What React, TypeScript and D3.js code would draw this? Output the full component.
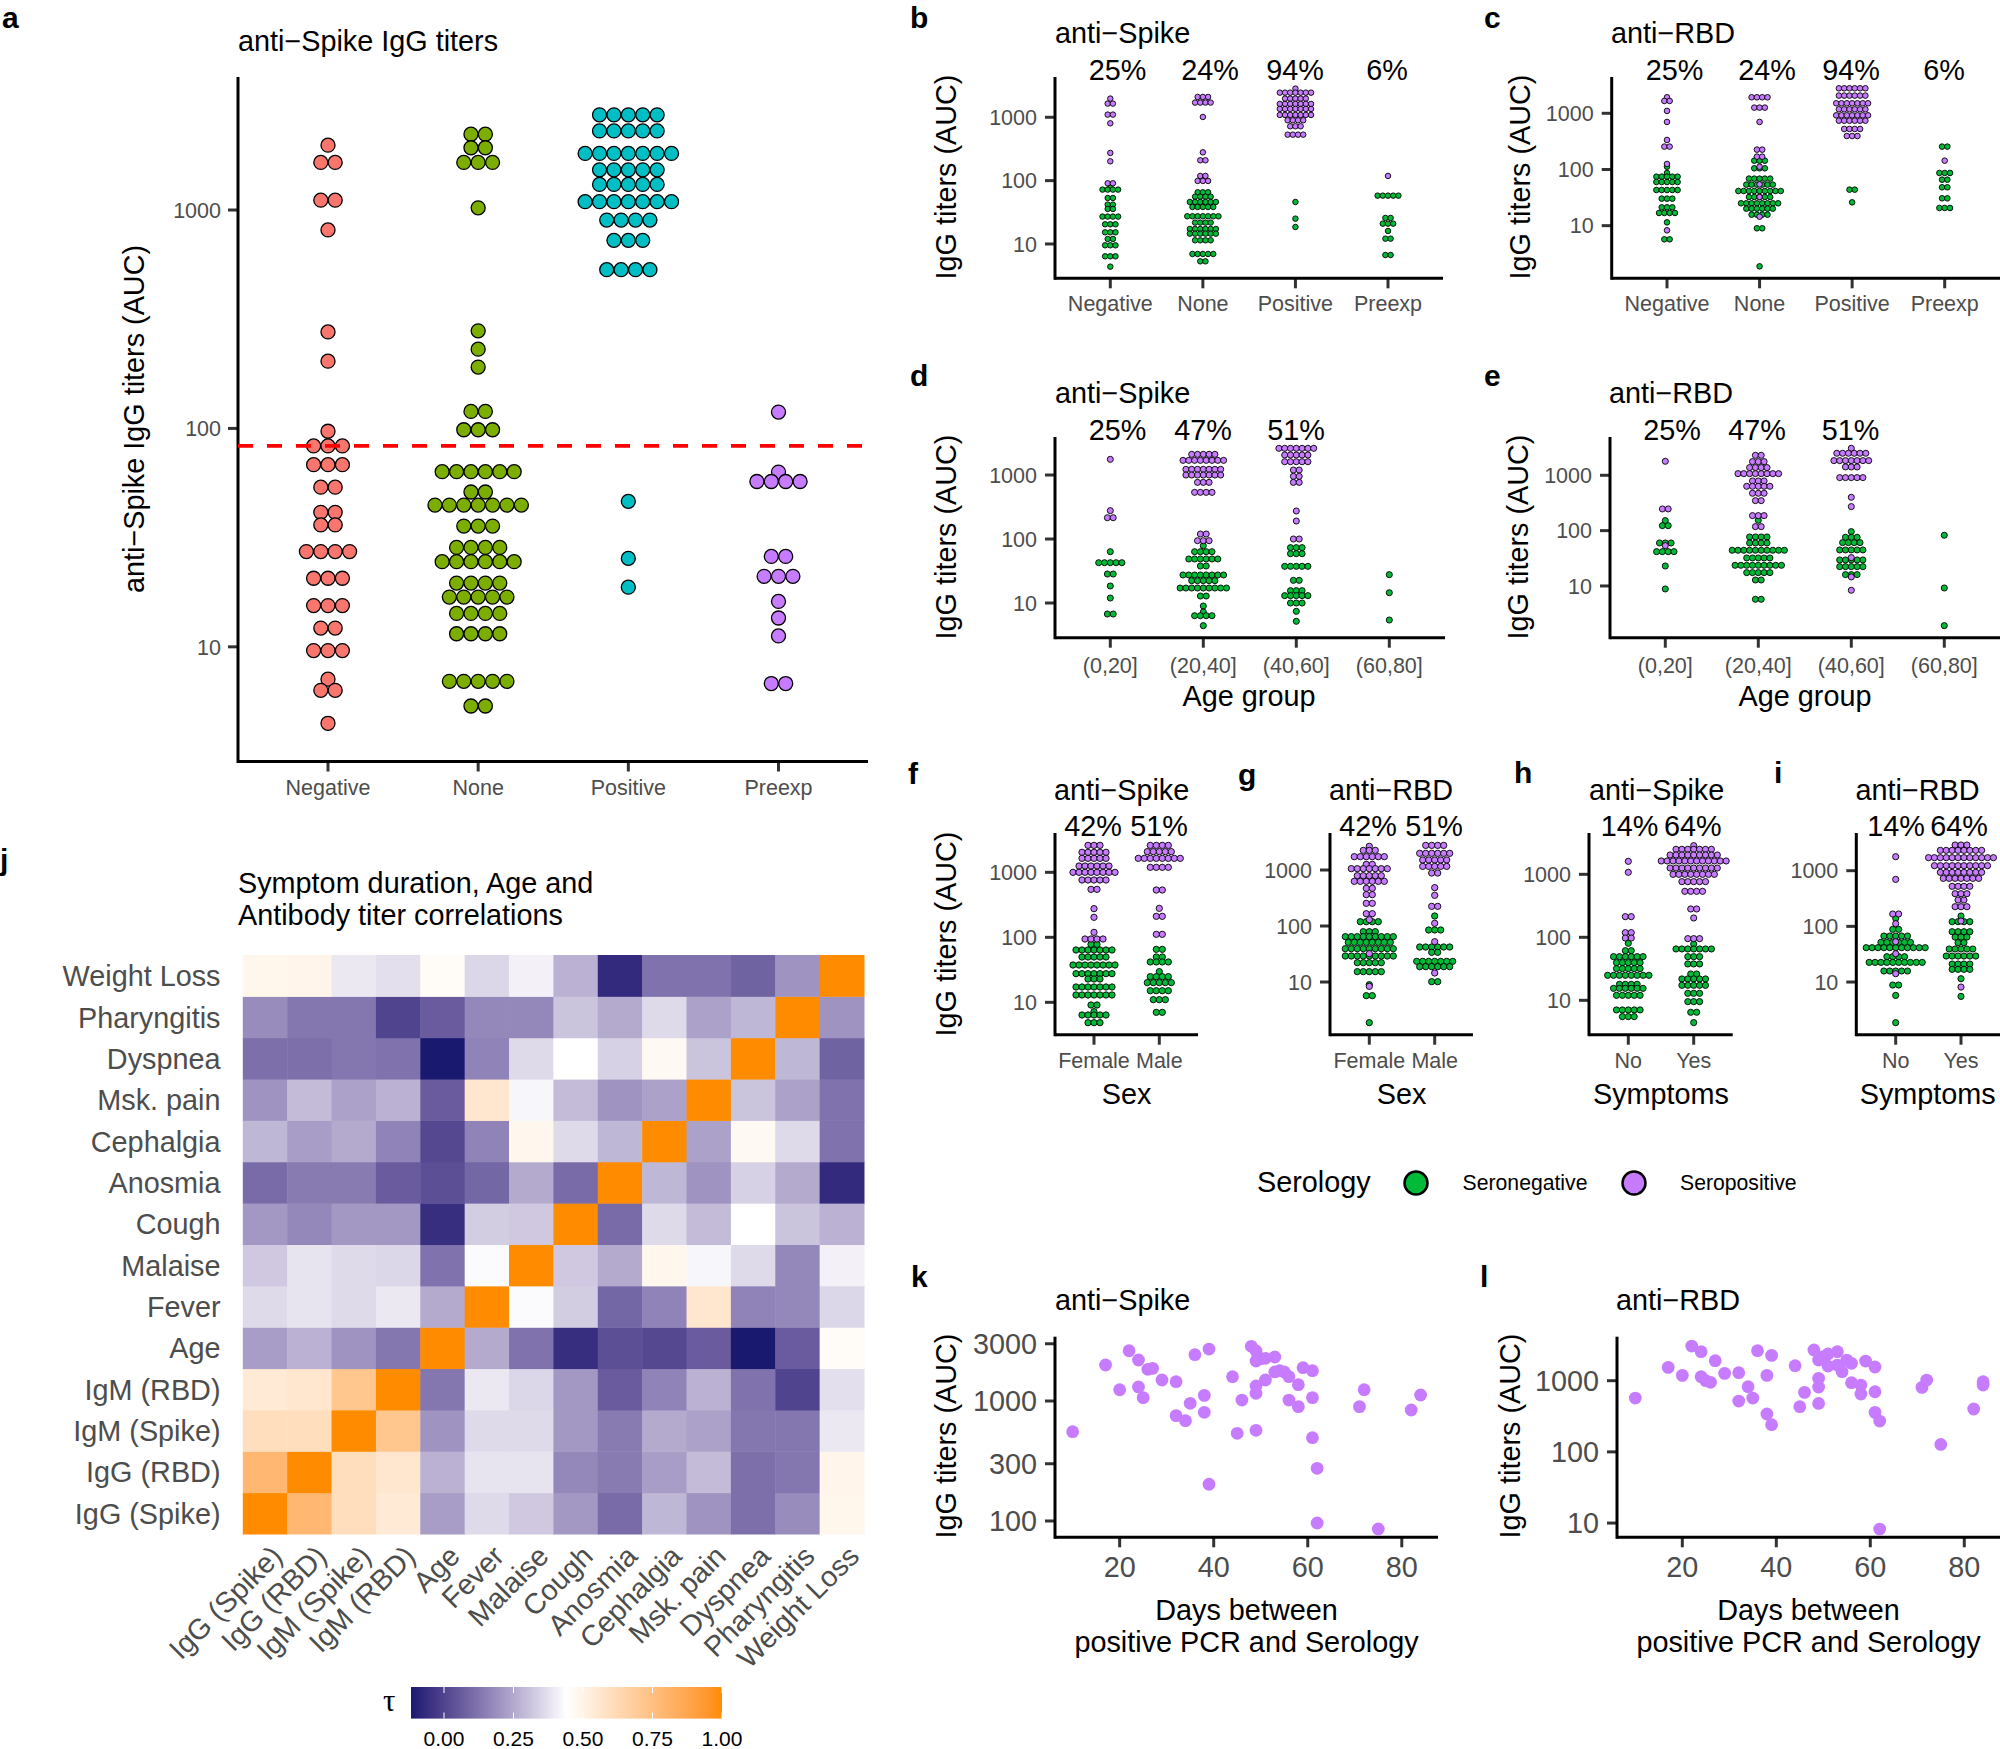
import * as d3 from "d3";

const FONT = "'Liberation Sans', Arial, sans-serif";
const GREEN = "#00BA38";
const PURPLE = "#C77CFF";
const GREY = "#4d4d4d";
const TICK = "#333333";

// every bin is [log10 AUC, number of stacked dots]
type Bin = number[];

const serologyCats = ["Negative", "None", "Positive", "Preexp"];
const ageCats = ["(0,20]", "(20,40]", "(40,60]", "(60,80]"];
const sexCats = ["Female", "Male"];
const symptomCats = ["No", "Yes"];

const aColors = ["#F8766D", "#7CAE00", "#00BFC4", "#C77CFF"];
const aCutoff = 1.92;
const aBins: Bin[][] = [
    [[3.297, 1], [3.218, 2], [3.045, 2], [2.909, 1], [2.442, 1], [2.308, 1], [1.987, 1], [1.92, 3], [1.834, 3], [1.731, 2], [1.616, 2], [1.558, 2], [1.436, 4], [1.314, 3], [1.189, 3], [1.086, 2], [0.983, 3], [0.852, 1], [0.801, 2], [0.65, 1]],
    [[3.347, 2], [3.285, 2], [3.218, 3], [3.01, 1], [2.447, 1], [2.363, 1], [2.281, 1], [2.078, 2], [1.994, 3], [1.802, 6], [1.709, 2], [1.649, 7], [1.553, 3], [1.455, 4], [1.39, 6], [1.292, 4], [1.228, 5], [1.153, 4], [1.06, 4], [0.842, 5], [0.729, 2]],
    [[3.436, 5], [3.362, 5], [3.259, 7], [3.184, 5], [3.117, 5], [3.038, 7], [2.954, 4], [2.861, 3], [2.727, 4], [1.666, 1], [1.405, 1], [1.273, 1]],
    [[2.075, 1], [1.8, 1], [1.757, 4], [1.414, 2], [1.323, 3], [1.208, 1], [1.132, 1], [1.05, 1], [0.832, 2]],
];

const bNeg: Bin[][] = [
    [[1.895, 1], [1.858, 4], [1.726, 2], [1.621, 2], [1.553, 2], [1.432, 4], [1.311, 3], [1.184, 3], [1.079, 2], [0.979, 3], [0.805, 3], [0.642, 1]],
    [[1.816, 3], [1.747, 4], [1.663, 6], [1.584, 5], [1.437, 7], [1.337, 4], [1.237, 6], [1.163, 6], [1.058, 4], [0.842, 5], [0.726, 2]],
    [[1.663, 1], [1.4, 1], [1.268, 1]],
    [[1.763, 5], [1.411, 2], [1.321, 3], [1.205, 1], [1.084, 2], [0.826, 2]],
];
const bPos: Bin[][] = [
    [[3.295, 1], [3.216, 2], [3.042, 2], [2.905, 1], [2.437, 1], [2.305, 1], [1.958, 2]],
    [[3.321, 3], [3.232, 4], [3.005, 1], [2.447, 1], [2.321, 2], [2.074, 2], [1.995, 3]],
    [[3.453, 1], [3.389, 7], [3.295, 5], [3.211, 7], [3.132, 7], [3.037, 7], [2.953, 4], [2.858, 3], [2.726, 4]],
    [[2.074, 1]],
];

const cNeg: Bin[][] = [
    [[2.05, 1], [1.938, 1], [1.872, 5], [1.777, 5], [1.635, 5], [1.481, 3], [1.326, 3], [1.226, 4], [1.059, 1], [0.757, 2]],
    [[2.157, 3], [2.021, 3], [1.837, 5], [1.73, 6], [1.617, 9], [1.51, 5], [1.398, 8], [1.303, 6], [1.196, 4], [0.953, 2], [0.276, 1]],
    [[1.641, 2], [1.415, 1]],
    [[2.407, 2], [1.938, 3], [1.819, 2], [1.683, 2], [1.487, 2], [1.315, 3]],
];
const cPos: Bin[][] = [
    [[3.285, 1], [3.22, 2], [3.042, 1], [2.846, 1], [2.525, 1], [2.407, 2], [2.098, 1], [0.917, 1]],
    [[3.285, 4], [3.101, 3], [2.846, 1], [2.353, 2], [2.228, 2], [2.05, 1], [1.735, 1], [1.51, 1], [1.16, 1]],
    [[3.445, 6], [3.315, 6], [3.178, 7], [3.071, 6], [2.964, 7], [2.869, 6], [2.721, 4], [2.596, 3]],
    [[2.157, 1]],
];

const dNeg: Bin[][] = [
    [[1.802, 1], [1.63, 5], [1.453, 2], [1.266, 1], [1.078, 1], [0.828, 2]],
    [[1.896, 1], [1.802, 4], [1.688, 6], [1.578, 2], [1.438, 8], [1.349, 5], [1.234, 9], [1.109, 2], [0.953, 1], [0.859, 1], [0.802, 4], [0.646, 1]],
    [[1.865, 3], [1.771, 3], [1.573, 5], [1.354, 2], [1.193, 3], [1.115, 5], [1.0, 3], [0.87, 1], [0.714, 1]],
    [[1.443, 1], [1.161, 1], [0.734, 1]],
];
const dPos: Bin[][] = [
    [[3.245, 1], [2.443, 1], [2.333, 2]],
    [[3.323, 5], [3.229, 8], [3.089, 7], [3.0, 7], [2.885, 3], [2.729, 4], [2.078, 2], [1.974, 3]],
    [[3.417, 7], [3.313, 5], [3.208, 5], [3.078, 2], [2.979, 2], [2.885, 2], [2.438, 1], [2.281, 1], [2.0, 2]],
    [],
];

const eNeg: Bin[][] = [
    [[2.181, 1], [2.09, 2], [1.777, 3], [1.62, 4], [1.361, 1], [0.946, 1]],
    [[2.187, 1], [1.886, 4], [1.777, 4], [1.645, 10], [1.506, 5], [1.373, 9], [1.241, 5], [1.108, 2], [0.759, 2]],
    [[1.982, 1], [1.88, 3], [1.783, 4], [1.651, 5], [1.47, 5], [1.349, 5], [1.205, 3]],
    [[1.916, 1], [0.964, 1], [0.283, 1]],
];
const ePos: Bin[][] = [
    [[3.253, 1], [2.392, 2], [1.729, 1]],
    [[3.361, 2], [3.247, 3], [3.139, 4], [3.03, 8], [2.898, 3], [2.801, 5], [2.675, 3], [2.542, 2], [2.271, 3], [2.072, 2]],
    [[3.488, 1], [3.398, 6], [3.265, 7], [3.151, 3], [2.958, 5], [2.602, 1], [2.434, 1], [1.512, 1], [1.163, 1], [0.922, 1]],
    [],
];

const fNeg: Bin[][] = [
    [[1.892, 2], [1.805, 7], [1.697, 5], [1.574, 8], [1.441, 7], [1.359, 3], [1.236, 7], [1.113, 7], [0.959, 2], [0.856, 1], [0.805, 5], [0.687, 3]],
    [[1.815, 2], [1.697, 2], [1.621, 4], [1.472, 1], [1.395, 4], [1.303, 5], [1.179, 4], [1.041, 3], [0.846, 2]],
];
const fPos: Bin[][] = [
    [[3.415, 3], [3.308, 5], [3.215, 5], [3.097, 6], [3.0, 8], [2.882, 5], [2.738, 2], [2.441, 1], [2.308, 1], [2.077, 1], [1.974, 4]],
    [[3.415, 4], [3.318, 5], [3.215, 8], [3.077, 4], [2.728, 2], [2.446, 1], [2.323, 2], [2.046, 2]],
];

const gNeg: Bin[][] = [
    [[2.077, 4], [1.899, 3], [1.81, 9], [1.708, 8], [1.595, 9], [1.464, 9], [1.345, 5], [1.185, 5], [0.952, 1], [0.756, 2], [0.274, 1]],
    [[2.179, 1], [1.929, 3], [1.625, 6], [1.53, 2], [1.369, 7], [1.274, 6], [1.006, 2]],
];
const gPos: Bin[][] = [
    [[3.423, 1], [3.351, 3], [3.238, 6], [3.101, 2], [3.024, 7], [2.899, 5], [2.798, 6], [2.673, 2], [2.56, 2], [2.405, 2], [2.22, 2], [2.113, 1], [1.506, 1], [0.923, 1]],
    [[3.44, 4], [3.298, 6], [3.179, 5], [3.065, 5], [2.946, 2], [2.685, 1], [2.548, 1], [2.351, 2], [2.048, 1], [1.72, 1], [1.161, 1]],
];

const hNeg: Bin[][] = [
    [[1.905, 1], [1.788, 2], [1.693, 6], [1.598, 5], [1.503, 5], [1.397, 8], [1.254, 4], [1.19, 6], [1.079, 5], [0.847, 5], [0.741, 3]],
    [[1.894, 1], [1.815, 7], [1.693, 3], [1.577, 3], [1.418, 2], [1.339, 5], [1.238, 5], [1.111, 3], [0.979, 3], [0.81, 2], [0.646, 1]],
];
const hPos: Bin[][] = [
    [[3.206, 1], [3.032, 1], [2.328, 2], [2.074, 2], [1.989, 2]],
    [[3.455, 1], [3.397, 7], [3.307, 9], [3.212, 12], [3.1, 9], [3.0, 8], [2.884, 5], [2.73, 4], [2.45, 2], [2.307, 1], [1.979, 3]],
];

const iNeg: Bin[][] = [
    [[2.144, 1], [1.946, 2], [1.826, 5], [1.713, 6], [1.617, 11], [1.455, 4], [1.353, 10], [1.198, 5], [0.946, 2], [0.76, 1], [0.27, 1]],
    [[2.186, 1], [2.084, 4], [1.904, 4], [1.808, 3], [1.707, 2], [1.593, 5], [1.467, 6], [1.323, 4], [1.228, 4], [1.06, 1], [0.742, 1]],
];
const iPos: Bin[][] = [
    [[3.251, 1], [2.844, 1], [2.222, 2], [2.048, 1], [1.725, 1], [1.509, 1], [1.15, 1]],
    [[3.461, 3], [3.365, 8], [3.234, 12], [3.09, 10], [2.97, 8], [2.862, 7], [2.719, 4], [2.587, 3], [2.473, 2], [2.353, 3], [2.096, 1], [0.91, 1]],
];

const kDays = [10, 17, 20, 22, 24, 24, 25, 26, 27, 29, 32, 32, 34, 35, 36, 38, 38, 39, 39, 44, 45, 46, 48, 49, 49, 49, 49, 49, 50, 51, 51, 53, 53, 54, 55, 56, 56, 58, 58, 59, 61, 61, 61, 62, 62, 71, 72, 75, 82, 84];
const kLog = [2.744, 3.3, 3.094, 3.419, 3.342, 3.117, 3.028, 3.264, 3.272, 3.175, 3.161, 2.878, 2.836, 2.981, 3.386, 3.047, 2.906, 3.433, 2.306, 3.203, 2.731, 3.008, 3.456, 3.417, 3.333, 3.125, 3.064, 2.756, 3.353, 3.356, 3.175, 3.367, 3.242, 3.253, 3.242, 3.203, 3.008, 3.136, 2.953, 3.278, 3.253, 3.028, 2.694, 2.439, 1.983, 2.953, 3.094, 1.933, 2.925, 3.05];
const lDays = [10, 17, 20, 22, 24, 24, 25, 26, 27, 29, 32, 32, 34, 35, 36, 38, 38, 39, 39, 44, 45, 46, 48, 49, 49, 49, 49, 50, 51, 51, 53, 53, 54, 55, 56, 56, 58, 58, 59, 61, 61, 61, 62, 62, 71, 72, 75, 82, 84, 84];
const lLog = [2.756, 3.187, 3.075, 3.487, 3.407, 3.056, 3.0, 2.977, 3.281, 3.103, 3.112, 2.714, 2.916, 2.756, 3.422, 3.075, 2.532, 3.356, 2.382, 3.211, 2.635, 2.836, 3.431, 3.29, 3.033, 2.911, 2.681, 3.337, 3.375, 3.206, 3.407, 3.22, 3.126, 3.29, 3.244, 2.972, 2.939, 2.813, 3.276, 3.192, 2.845, 2.555, 2.433, 0.916, 2.906, 3.009, 2.105, 2.602, 2.986, 2.939];

const heatVars = ["IgG (Spike)", "IgG (RBD)", "IgM (Spike)", "IgM (RBD)", "Age", "Fever", "Malaise", "Cough", "Anosmia", "Cephalgia", "Msk. pain", "Dyspnea", "Pharyngitis", "Weight Loss"];
// lower triangle of the correlation matrix, diagonal is 1
const tauRows = [
    [],
    [0.79],
    [0.6, 0.6],
    [0.54, 0.56, 0.72],
    [0.22, 0.27, 0.2, 0.13],
    [0.36, 0.38, 0.36, 0.39, 0.25],
    [0.32, 0.38, 0.36, 0.35, 0.12, 0.43],
    [0.21, 0.17, 0.21, 0.21, -0.06, 0.33, 0.32],
    [0.1, 0.14, 0.14, 0.06, 0.03, 0.09, 0.25, 0.1],
    [0.28, 0.22, 0.25, 0.16, 0.01, 0.16, 0.48, 0.36, 0.28],
    [0.2, 0.29, 0.23, 0.27, 0.06, 0.56, 0.42, 0.29, 0.2, 0.23],
    [0.11, 0.11, 0.13, 0.12, -0.12, 0.16, 0.36, 0.44, 0.34, 0.47, 0.31],
    [0.18, 0.13, 0.13, 0.0, 0.06, 0.17, 0.17, 0.31, 0.25, 0.36, 0.23, 0.28],
    [0.485, 0.49, 0.39, 0.37, 0.46, 0.35, 0.41, 0.27, -0.07, 0.12, 0.12, 0.08, 0.2],
];
const legendTicks = [0, 0.25, 0.5, 0.75, 1];

const tauColor = d3
    .scaleLinear<string>()
    .domain([-0.12, 0.44, 1])
    .range(["#191970", "#ffffff", "#ff8c00"])
    .interpolate(d3.interpolateLab);

function Label({ x, y, size = 28.8, fill = "#000", anchor = "start", rotate, weight, children }: any) {
    return (
        <text
            x={rotate === undefined ? x : 0}
            y={rotate === undefined ? y : 0}
            transform={rotate === undefined ? undefined : `translate(${x},${y}) rotate(${rotate})`}
            fontFamily={FONT}
            fontSize={size}
            fontWeight={weight}
            fill={fill}
            textAnchor={anchor}
        >
            {children}
        </text>
    );
}

function Axes({ left, right, top, bottom, yScale, yTicks, xScale, xTicks, tickSize, tickRight, xBase }: any) {
    return (
        <g>
            {yTicks.map((t: number) => (
                <g key={t}>
                    <line x1={left - 10} x2={left} y1={yScale(t)} y2={yScale(t)} stroke={TICK} strokeWidth={3} />
                    <Label x={tickRight} y={yScale(t) + tickSize * 0.36} size={tickSize} fill={GREY} anchor="end">
                        {t}
                    </Label>
                </g>
            ))}
            {xTicks.map((t: any) => (
                <g key={t}>
                    <line x1={xScale(t)} x2={xScale(t)} y1={bottom} y2={bottom + 10} stroke={TICK} strokeWidth={3} />
                    <Label x={xScale(t)} y={xBase} size={tickSize} fill={GREY} anchor="middle">
                        {t}
                    </Label>
                </g>
            ))}
            <line x1={left} x2={left} y1={top} y2={bottom + 1.5} stroke="#000" strokeWidth={3} />
            <line x1={left} x2={right} y1={bottom} y2={bottom} stroke="#000" strokeWidth={3} />
        </g>
    );
}

function Stack({ bins, cx, y, step, r, sw, fill }: any) {
    return bins.flatMap((bin: Bin, i: number) =>
        d3.range(bin[1]).map((k) => (
            <circle
                key={`${i}-${k}`}
                cx={cx + (k - (bin[1] - 1) / 2) * step}
                cy={y(10 ** bin[0])}
                r={r}
                fill={fill}
                stroke="#000"
                strokeWidth={sw}
            />
        ))
    );
}

type DotPanelProps = {
    cats: string[];
    neg: Bin[][];
    pos: Bin[][];
    left: number;
    right: number;
    top: number;
    bottom: number;
    lo: number;
    hi: number;
    first: number;
    last: number;
    step: number;
    title: string;
    titleX: number;
    titleY: number;
    pct: string[];
    pctX: number[];
    pctY: number;
    xBase: number;
    xTitle?: string;
    xTitleX?: number;
    xTitleY?: number;
    yTitleX?: number;
    yTitleY?: number;
};

function DotPanel(p: DotPanelProps) {
    const y = d3.scaleLog().domain([10 ** p.lo, 10 ** p.hi]).range([p.bottom, p.top]);
    const x = d3.scalePoint().domain(p.cats).range([p.first, p.last]);
    const r = p.step / 2 + 0.15;
    return (
        <g>
            <Label x={p.titleX} y={p.titleY}>{p.title}</Label>
            {p.pct.map((t, i) => (
                <Label key={t + i} x={p.pctX[i]} y={p.pctY} anchor="middle">{t}</Label>
            ))}
            <Axes
                left={p.left}
                right={p.right}
                top={p.top}
                bottom={p.bottom}
                yScale={y}
                yTicks={[10, 100, 1000]}
                xScale={x}
                xTicks={p.cats}
                tickSize={21.5}
                tickRight={p.left - 18}
                xBase={p.xBase}
            />
            {p.cats.map((c, i) => (
                <g key={c}>
                    <Stack bins={p.neg[i]} cx={x(c)} y={y} step={p.step} r={r} sw={0.9} fill={GREEN} />
                    <Stack bins={p.pos[i]} cx={x(c)} y={y} step={p.step} r={r} sw={0.9} fill={PURPLE} />
                </g>
            ))}
            {p.xTitle && <Label x={p.xTitleX} y={p.xTitleY} anchor="middle">{p.xTitle}</Label>}
            {p.yTitleX && (
                <Label x={p.yTitleX} y={p.yTitleY} rotate={-90} anchor="middle">IgG titers (AUC)</Label>
            )}
        </g>
    );
}

function PanelA() {
    const left = 238;
    const bottom = 761.5;
    const y = d3.scaleLog().domain([10 ** 0.475, 10 ** 3.609]).range([bottom, 77]);
    const x = d3.scalePoint().domain(serologyCats).range([328, 778.5]);
    return (
        <g>
            <Label x={238} y={51}>anti−Spike IgG titers</Label>
            <Label x={144} y={419} rotate={-90} anchor="middle">anti−Spike IgG titers (AUC)</Label>
            <Axes
                left={left}
                right={868}
                top={77}
                bottom={bottom}
                yScale={y}
                yTicks={[10, 100, 1000]}
                xScale={x}
                xTicks={serologyCats}
                tickSize={21.5}
                tickRight={221}
                xBase={795}
            />
            {serologyCats.map((c, i) => (
                <Stack key={c} bins={aBins[i]} cx={x(c)} y={y} step={14.4} r={7} sw={1.3} fill={aColors[i]} />
            ))}
            <line x1={left} x2={868} y1={y(10 ** aCutoff)} y2={y(10 ** aCutoff)} stroke="#ff0000" strokeWidth={3.6} strokeDasharray="15 14" />
        </g>
    );
}

function Scatter({ days, logs, left, right, top, bottom, lo, hi, d0, d1, yTicks, title, titleX, tickRight, xCenter, yTitleX }: any) {
    const y = d3.scaleLog().domain([10 ** lo, 10 ** hi]).range([bottom, top]);
    const x = d3.scaleLinear().domain([d0, d1]).range([left, right]);
    return (
        <g>
            <Label x={titleX} y={1310}>{title}</Label>
            <Axes
                left={left}
                right={right}
                top={top}
                bottom={bottom}
                yScale={y}
                yTicks={yTicks}
                xScale={x}
                xTicks={[20, 40, 60, 80]}
                tickSize={28.8}
                tickRight={tickRight}
                xBase={1577}
            />
            {days.map((d: number, i: number) => (
                <circle key={i} cx={x(d)} cy={y(10 ** logs[i])} r={6.4} fill={PURPLE} />
            ))}
            <Label x={xCenter} y={1620} anchor="middle">Days between</Label>
            <Label x={xCenter} y={1652} anchor="middle">positive PCR and Serology</Label>
            <Label x={yTitleX} y={1436} rotate={-90} anchor="middle">IgG titers (AUC)</Label>
        </g>
    );
}

function Heatmap() {
    const x = d3.scaleBand().domain(heatVars).range([242.8, 864]);
    const y = d3.scaleBand().domain(heatVars).range([1534, 955]);
    const tau = (i: number, j: number) => (i === j ? 1 : i > j ? tauRows[i][j] : tauRows[j][i]);
    const legendX = d3.scaleLinear().domain([0, 1]).range([444, 722]);
    const stops = d3.range(-0.12, 1.0001, 0.04);
    return (
        <g>
            <Label x={238} y={893}>Symptom duration, Age and</Label>
            <Label x={238} y={925}>Antibody titer correlations</Label>
            {heatVars.map((rowName, i) =>
                heatVars.map((colName, j) => (
                    <rect
                        key={`${i}-${j}`}
                        x={x(colName)}
                        y={y(rowName)}
                        width={x.bandwidth() + 0.5}
                        height={y.bandwidth() + 0.5}
                        fill={tauColor(tau(i, j))}
                    />
                ))
            )}
            {heatVars.map((v) => (
                <Label key={v} x={220.5} y={y(v)! + y.bandwidth() / 2 + 10.5} fill={GREY} anchor="end">
                    {v}
                </Label>
            ))}
            {heatVars.map((v) => (
                <Label key={v} x={x(v)! + x.bandwidth() / 2 + 19} y={1558} fill={GREY} anchor="end" rotate={-45}>
                    {v}
                </Label>
            ))}
            <defs>
                <linearGradient id="tauGradient" x1="0" x2="1" y1="0" y2="0">
                    {stops.map((s) => (
                        <stop key={s} offset={(s + 0.12) / 1.12} stopColor={tauColor(s)} />
                    ))}
                </linearGradient>
            </defs>
            <text x={383} y={1711} fontFamily="'Liberation Serif', serif" fontSize={31} fill="#000">τ</text>
            <rect x={411} y={1687} width={311} height={31.6} fill="url(#tauGradient)" />
            {legendTicks.map((t) => (
                <g key={t}>
                    <line x1={legendX(t)} x2={legendX(t)} y1={1687} y2={1693} stroke="#fff" strokeWidth={1} />
                    <line x1={legendX(t)} x2={legendX(t)} y1={1712.5} y2={1718.6} stroke="#fff" strokeWidth={1} />
                    <Label x={legendX(t)} y={1746} size={21} anchor="middle">{t.toFixed(2)}</Label>
                </g>
            ))}
        </g>
    );
}

const panelLetters: [string, number, number][] = [
    ["a", 2, 27.5], ["b", 910, 27.5], ["c", 1484, 27.5], ["d", 910, 386], ["e", 1484, 386],
    ["f", 908, 784], ["g", 1238, 785], ["h", 1514, 783], ["i", 1774, 783], ["j", 0, 870],
    ["k", 911, 1287], ["l", 1480, 1287],
];

export default function App() {
    return (
        <svg width={2000} height={1749} style={{ position: "absolute", left: 0, top: 0, background: "#fff" }}>
            {panelLetters.map(([t, x, y]) => (
                <Label key={t} x={x} y={y} size={30} weight="bold">{t}</Label>
            ))}
            <PanelA />
            <DotPanel cats={serologyCats} neg={bNeg} pos={bPos} left={1055} right={1443} top={77} bottom={278.3} lo={0.458} hi={3.636} first={1110.3} last={1388} step={5.2}
                title="anti−Spike" titleX={1055} titleY={43} pct={["25%", "24%", "94%", "6%"]} pctX={[1117.5, 1210, 1295, 1387]} pctY={80} xBase={311} yTitleX={956} yTitleY={177} />
            <DotPanel cats={serologyCats} neg={cNeg} pos={cPos} left={1611.7} right={2000} top={77} bottom={278.3} lo={0.063} hi={3.646} first={1667} last={1944.7} step={5.3}
                title="anti−RBD" titleX={1611} titleY={43} pct={["25%", "24%", "94%", "6%"]} pctX={[1674.5, 1767, 1851, 1944]} pctY={80} xBase={311} yTitleX={1530} yTitleY={177} />
            <DotPanel cats={ageCats} neg={dNeg} pos={dPos} left={1055} right={1445} top={437} bottom={637.7} lo={0.458} hi={3.594} first={1110.3} last={1389.3} step={5.8}
                title="anti−Spike" titleX={1055} titleY={403} pct={["25%", "47%", "51%"]} pctX={[1117.5, 1203, 1296]} pctY={440} xBase={673} xTitle="Age group" xTitleX={1249} xTitleY={706} yTitleX={956} yTitleY={537} />
            <DotPanel cats={ageCats} neg={eNeg} pos={ePos} left={1610} right={2000} top={437} bottom={637.7} lo={0.065} hi={3.692} first={1665.3} last={1944.3} step={5.8}
                title="anti−RBD" titleX={1609} titleY={403} pct={["25%", "47%", "51%"]} pctX={[1672, 1757, 1850.5]} pctY={440} xBase={673} xTitle="Age group" xTitleX={1805} xTitleY={706} yTitleX={1528} yTitleY={537} />
            <DotPanel cats={sexCats} neg={fNeg} pos={fPos} left={1055} right={1198} top={833} bottom={1034.7} lo={0.502} hi={3.605} first={1094} last={1159.3} step={6}
                title="anti−Spike" titleX={1054} titleY={800} pct={["42%", "51%"]} pctX={[1093, 1159]} pctY={836} xBase={1068} xTitle="Sex" xTitleX={1126.6} xTitleY={1104} yTitleX={956} yTitleY={934} />
            <DotPanel cats={sexCats} neg={gNeg} pos={gPos} left={1330} right={1473} top={833} bottom={1034.7} lo={0.059} hi={3.661} first={1369.3} last={1434.7} step={6}
                title="anti−RBD" titleX={1329} titleY={800} pct={["42%", "51%"]} pctX={[1368, 1434]} pctY={836} xBase={1068} xTitle="Sex" xTitleX={1401.6} xTitleY={1104} />
            <DotPanel cats={symptomCats} neg={hNeg} pos={hPos} left={1589} right={1732.7} top={833} bottom={1034.7} lo={0.454} hi={3.656} first={1628.3} last={1693.7} step={5.9}
                title="anti−Spike" titleX={1589} titleY={800} pct={["14%", "64%"]} pctX={[1629.6, 1692.7]} pctY={836} xBase={1068} xTitle="Symptoms" xTitleX={1661} xTitleY={1104} />
            <DotPanel cats={symptomCats} neg={iNeg} pos={iPos} left={1856.3} right={2000} top={833} bottom={1034.7} lo={0.054} hi={3.677} first={1895.7} last={1961} step={5.9}
                title="anti−RBD" titleX={1855.5} titleY={800} pct={["14%", "64%"]} pctX={[1896, 1959]} pctY={836} xBase={1068} xTitle="Symptoms" xTitleX={1927.7} xTitleY={1104} />
            <g>
                <Label x={1257} y={1192}>Serology</Label>
                <circle cx={1416} cy={1183} r={11.5} fill={GREEN} stroke="#000" strokeWidth={2.5} />
                <Label x={1462.6} y={1190} size={21.2}>Seronegative</Label>
                <circle cx={1634} cy={1183} r={11.5} fill={PURPLE} stroke="#000" strokeWidth={2.5} />
                <Label x={1680} y={1190} size={21.2}>Seropositive</Label>
            </g>
            <Scatter days={kDays} logs={kLog} left={1055} right={1438} top={1336.7} bottom={1537.3} lo={1.864} hi={3.536} d0={6.25} d1={87.7}
                yTicks={[100, 300, 1000, 3000]} title="anti−Spike" titleX={1055} tickRight={1037} xCenter={1246.5} yTitleX={956} />
            <Scatter days={lDays} logs={lLog} left={1617} right={2000} top={1336.7} bottom={1537.3} lo={0.8} hi={3.618} d0={6.1} d1={87.6}
                yTicks={[10, 100, 1000]} title="anti−RBD" titleX={1616} tickRight={1599} xCenter={1808.5} yTitleX={1520} />
            <Heatmap />
        </svg>
    );
}
